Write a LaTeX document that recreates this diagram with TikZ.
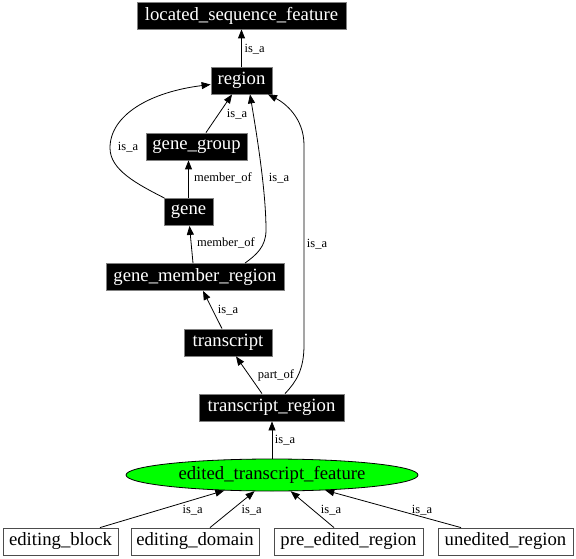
\documentclass[tikz,border=0pt]{standalone}
\usepackage{fontspec}
\setmainfont{Liberation Serif}
\usetikzlibrary{arrows.meta,shapes.geometric}
\begin{document}
\begin{tikzpicture}[x=1pt,y=-1pt,
  nfont/.style={font=\fontsize{18.7}{20}\selectfont},
  blk/.style={rectangle, fill=black, draw=gray, line width=0.8pt, text=white, inner sep=0pt, minimum height=27pt, nfont},
  wht/.style={rectangle, fill=white, draw=gray!60!black, line width=0.8pt, text=black, inner sep=0pt, minimum height=27pt, nfont},
  ell/.style={ellipse, fill=green, draw=black, line width=0.8pt, inner sep=0pt, minimum width=292pt, minimum height=32pt, nfont},
  e/.style={draw=black, line width=0.8pt, -{Triangle[length=9pt,width=7pt]}},
  lbl/.style={font=\fontsize{12.5}{13}\selectfont, inner sep=0pt, text=black}]
\useasboundingbox (0,0) rectangle (576,559);

\node[blk, minimum width=209pt] (lsf) at (241.5,15.5) {located\_sequence\_feature};
\node[blk, minimum width=61pt] (region) at (241.5,80.5) {region};
\node[blk, minimum width=101pt] (gg) at (196.5,146.5) {gene\_group};
\node[blk, minimum width=49pt] (gene) at (188.5,212) {gene};
\node[blk, minimum width=178pt] (gmr) at (195,277) {gene\_member\_region};
\node[blk, minimum width=88pt] (tx) at (228,342.5) {transcript};
\node[blk, minimum width=145pt] (tr) at (271.5,407.5) {transcript\_region};
\node[ell] (etf) at (272,475) {edited\_transcript\_feature};
\node[wht, minimum width=115pt] (eb) at (60.5,541.5) {editing\_block};
\node[wht, minimum width=128pt] (ed) at (195,541.5) {editing\_domain};
\node[wht, minimum width=149pt] (per) at (348.5,541.5) {pre\_edited\_region};
\node[wht, minimum width=135pt] (ur) at (505.5,541.5) {unedited\_region};

\draw[e] (region) -- (lsf) node[lbl] at (254.7,49) {is\_a};
\draw[e] (gg) -- (region) node[lbl] at (237,114) {is\_a};
\draw[e] (gene.north) -- (gene.north |- gg.south) node[lbl] at (223,178) {member\_of};
\draw[e] ([xshift=-2pt]gmr.north) -- ([xshift=1pt]gene.south) node[lbl] at (226,243) {member\_of};
\draw[e] ([xshift=-6pt]tx.north) -- ([xshift=8pt]gmr.south) node[lbl] at (228,310) {is\_a};
\draw[e] ([xshift=-9.5pt]tr.north) -- ([xshift=8pt]tx.south) node[lbl] at (276,375.5) {part\_of};
\draw[e] (etf.north) -- (etf.north |- tr.south) node[lbl] at (285,440) {is\_a};

\draw[e] ([xshift=-24pt]gene.north) .. controls (137,184) and (110,170) .. (110,148)
  .. controls (110,115) and (150,92) .. ([yshift=-4pt]region.west)
  node[lbl] at (128,147) {is\_a};
\draw[e] ([xshift=50pt]gmr.north) .. controls (256,255) and (266,247) .. (266,230)
  .. controls (266,190) and (256,130) .. ([xshift=8.5pt]region.south)
  node[lbl] at (279,178) {is\_a};
\draw[e] ([xshift=13.5pt]tr.north) .. controls (296,382) and (304,370) .. (304,345)
  -- (304,145) .. controls (304,118) and (285,103) .. ([xshift=26.5pt]region.south)
  node[lbl] at (317,244) {is\_a};

\draw[e] ([xshift=39.5pt]eb.north) -- (etf.198) node[lbl] at (192.7,510) {is\_a};
\draw[e] ([xshift=15pt]ed.north) -- (etf.223) node[lbl] at (251.7,510) {is\_a};
\draw[e] ([xshift=-14.5pt]per.north) -- (etf.319) node[lbl] at (331,510) {is\_a};
\draw[e] ([xshift=-44.5pt]ur.north) -- (etf.344) node[lbl] at (422,510) {is\_a};
\end{tikzpicture}
\end{document}
